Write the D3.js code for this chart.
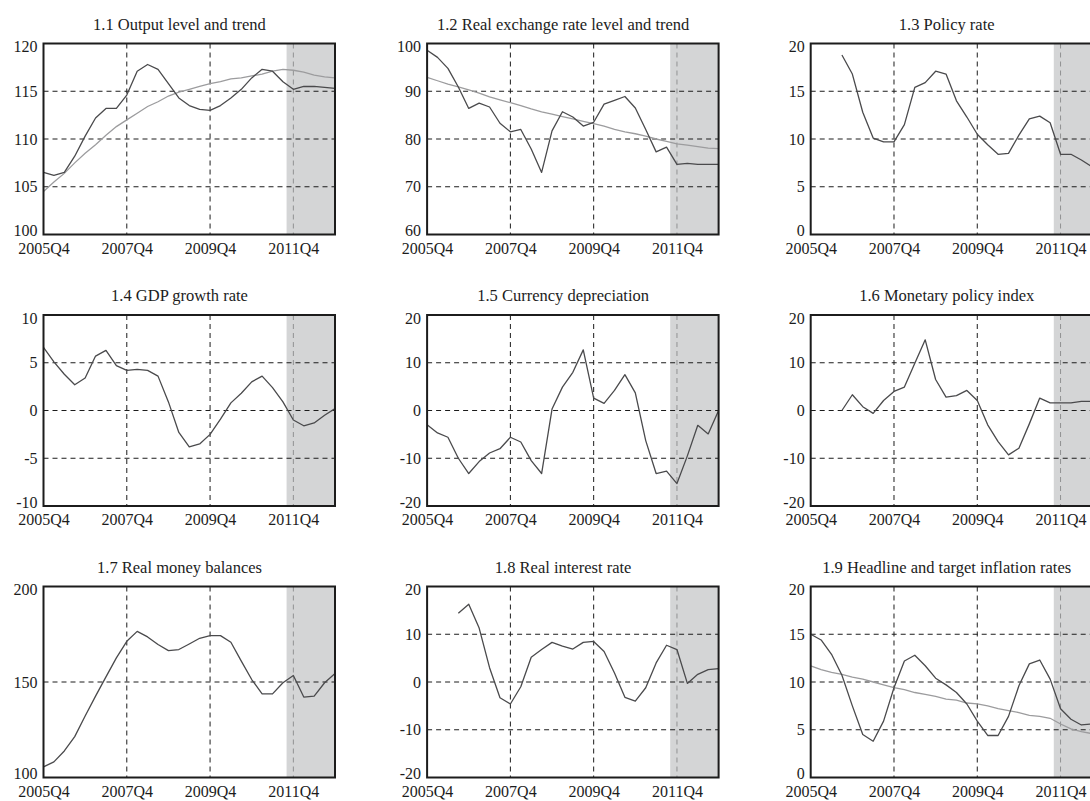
<!DOCTYPE html>
<html>
<head>
<meta charset="utf-8">
<script src="https://cdn.jsdelivr.net/npm/d3@7"></script>
<style>
  html, body { margin: 0; padding: 0; background: #fff; }
  svg { display: block; font-family: "Liberation Serif", "Times New Roman", serif; }
</style>
</head>
<body>
<svg id="chart" width="1090" height="801"></svg>
<script>
// Quarterly sample, 2005Q4 to 2012Q4
const quarters = ["2005Q4","2006Q1","2006Q2","2006Q3","2006Q4","2007Q1","2007Q2","2007Q3","2007Q4",
  "2008Q1","2008Q2","2008Q3","2008Q4","2009Q1","2009Q2","2009Q3","2009Q4","2010Q1","2010Q2","2010Q3",
  "2010Q4","2011Q1","2011Q2","2011Q3","2011Q4","2012Q1","2012Q2","2012Q3","2012Q4"];
const tickQuarters = ["2005Q4","2007Q4","2009Q4","2011Q4"];
// Projection band begins part-way through 2011Q3 (position in quarters from 2005Q4)
const forecastStart = 23.35;

const outputLevel = [106.5,106.2,106.5,108.2,110.3,112.2,113.2,113.2,114.6,117.1,117.8,117.3,115.8,114.3,113.5,113.1,113.0,113.5,114.3,115.2,116.4,117.3,117.1,116.0,115.2,115.5,115.5,115.4,115.3];
const outputTrend = [104.5,105.5,106.4,107.5,108.5,109.4,110.4,111.3,112.0,112.7,113.4,113.9,114.5,114.9,115.2,115.5,115.8,116.0,116.3,116.4,116.6,116.8,117.1,117.3,117.2,117.0,116.7,116.5,116.4];
const rerLevel = [98.6,97.1,94.8,90.9,86.4,87.5,86.7,83.3,81.5,82.0,77.9,73.0,81.7,85.7,84.6,82.7,83.5,87.3,88.1,88.9,86.5,82.0,77.3,78.3,74.7,74.9,74.7,74.7,74.7];
const rerTrend = [92.9,92.2,91.5,90.9,90.3,89.6,88.8,88.2,87.6,87.0,86.3,85.7,85.2,84.7,84.2,83.7,83.2,82.7,82.0,81.5,81.1,80.6,80.0,79.5,79.0,78.7,78.4,78.1,78.0];
const policyRate = [null,null,null,18.8,16.8,12.8,10.1,9.7,9.7,11.5,15.4,15.9,17.1,16.8,14.0,12.3,10.5,9.4,8.4,8.5,10.4,12.1,12.4,11.7,8.4,8.4,7.8,7.1,6.5];
const gdpGrowth = [6.6,5.1,3.8,2.7,3.4,5.7,6.3,4.7,4.2,4.3,4.2,3.6,0.9,-2.3,-3.8,-3.5,-2.5,-0.9,0.8,1.8,3.0,3.6,2.4,0.9,-1.0,-1.6,-1.3,-0.5,0.2];
const currencyDep = [-3.0,-4.7,-5.6,-10.0,-13.2,-10.7,-8.9,-8.0,-5.6,-6.6,-10.5,-13.2,0.3,4.9,8.0,12.7,2.6,1.5,4.2,7.5,3.7,-6.3,-13.2,-12.7,-15.3,-9.5,-3.1,-4.9,0.0];
const policyIndex = [null,null,null,0.0,3.3,0.8,-0.6,2.1,4.0,4.9,9.9,14.8,6.5,2.8,3.1,4.2,2.1,-3.0,-6.5,-9.3,-7.9,-2.8,2.6,1.6,1.6,1.6,1.9,1.9,1.9];
const moneyBalances = [105.6,108.2,113.9,121.4,132.2,142.6,152.7,162.6,171.3,176.5,173.6,169.6,166.4,167.0,169.9,172.9,174.3,174.3,170.8,160.9,151.3,143.8,143.8,149.6,153.4,142.1,142.6,149.6,154.4];
const realRate = [null,null,null,14.4,16.3,11.3,3.0,-3.3,-4.6,-1.0,5.2,6.8,8.3,7.5,6.9,8.3,8.5,6.4,1.9,-3.2,-4.0,-1.2,4.0,7.7,6.8,-0.3,1.6,2.6,2.8];
const headlineInflation = [15.0,14.4,12.9,10.7,7.5,4.5,3.8,5.9,9.4,12.2,12.8,11.7,10.4,9.7,8.9,7.7,5.9,4.4,4.4,6.4,9.6,11.9,12.3,10.3,7.2,6.1,5.5,5.6,5.8];
const targetInflation = [11.7,11.3,11.0,10.8,10.5,10.3,10.0,9.7,9.4,9.2,8.9,8.7,8.5,8.2,8.1,7.8,7.7,7.5,7.2,7.0,6.8,6.5,6.4,6.2,5.6,5.1,4.8,4.6,4.5];

const titles = ["1.1 Output level and trend","1.2 Real exchange rate level and trend","1.3 Policy rate",
  "1.4 GDP growth rate","1.5 Currency depreciation","1.6 Monetary policy index",
  "1.7 Real money balances","1.8 Real interest rate","1.9 Headline and target inflation rates"];
const yTicks = [
  [100,105,110,115,120],[60,70,80,90,100],[0,5,10,15,20],
  [-10,-5,0,5,10],[-20,-10,0,10,20],[-20,-10,0,10,20],
  [100,150,200],[-20,-10,0,10,20],[0,5,10,15,20]
];
const mainSeries = [outputLevel, rerLevel, policyRate, gdpGrowth, currencyDep, policyIndex, moneyBalances, realRate, headlineInflation];
const trendSeries = [outputTrend, rerTrend, null, null, null, null, null, null, targetInflation];

// Layout
const pw = 291.5, ph = 191;
const colStep = 383.6, rowStep = 271.5;
const x0 = 43.5, y0 = 43.5;
const ink = "#1c1c1c";

const svg = d3.select("#chart");
const tickIdx = tickQuarters.map(q => quarters.indexOf(q));

titles.forEach((title, i) => {
  const col = i % 3, row = Math.floor(i / 3);
  const left = x0 + col * colStep, top = y0 + row * rowStep;
  const ticks = yTicks[i];
  const g = svg.append("g").attr("transform", `translate(${left},${top})`);

  const x = d3.scaleLinear().domain([0, quarters.length - 1]).range([0, pw]);
  const y = d3.scaleLinear().domain([ticks[0], ticks[ticks.length - 1]]).range([ph, 0]);

  // vertical dashed grid
  g.append("g").selectAll("line").data(tickIdx.slice(1)).join("line")
    .attr("x1", d => x(d)).attr("x2", d => x(d))
    .attr("y1", 0).attr("y2", ph)
    .attr("stroke", ink).attr("stroke-width", 1).attr("stroke-dasharray", "5,4");

  // projection band
  g.append("rect")
    .attr("x", x(forecastStart)).attr("y", 0)
    .attr("width", x(quarters.length - 1) - x(forecastStart)).attr("height", ph)
    .attr("fill", "#c2c3c5").attr("fill-opacity", 0.7);

  // horizontal dashed grid
  g.append("g").selectAll("line").data(ticks.slice(1, -1)).join("line")
    .attr("x1", 0).attr("x2", pw)
    .attr("y1", d => y(d)).attr("y2", d => y(d))
    .attr("stroke", ink).attr("stroke-width", 1).attr("stroke-dasharray", "5,4");

  const line = d3.line()
    .defined(d => d != null)
    .x((d, k) => x(k))
    .y(d => y(d));

  if (trendSeries[i]) {
    g.append("path").datum(trendSeries[i])
      .attr("d", line).attr("fill", "none")
      .attr("stroke", "#9c9c9e").attr("stroke-width", 1.3);
  }
  g.append("path").datum(mainSeries[i])
    .attr("d", line).attr("fill", "none")
    .attr("stroke", "#4a4a4c").attr("stroke-width", 1.3).attr("stroke-linejoin", "round");

  // frame
  g.append("rect").attr("width", pw).attr("height", ph)
    .attr("fill", "none").attr("stroke", ink).attr("stroke-width", 2);

  // y axis labels
  const ya = g.append("g")
    .call(d3.axisLeft(y).tickValues(ticks).tickSize(0).tickPadding(6).tickFormat(d => String(d)));
  ya.select(".domain").remove();
  ya.attr("font-family", null).attr("font-size", 16).attr("color", ink);
  // nudge the end labels so they sit clear of the frame corners
  ya.selectAll(".tick text").filter(d => d === ticks[ticks.length - 1]).attr("y", 3);
  ya.selectAll(".tick text").filter(d => d === ticks[0]).attr("y", -4);

  // x axis labels
  const xa = g.append("g").attr("transform", `translate(0,${ph})`)
    .call(d3.axisBottom(x).tickValues(tickIdx).tickSize(0).tickPadding(8).tickFormat(d => quarters[d]));
  xa.select(".domain").remove();
  xa.attr("font-family", null).attr("font-size", 16).attr("color", ink);

  // panel title
  g.append("text")
    .attr("x", 136).attr("y", -14)
    .attr("text-anchor", "middle")
    .attr("font-size", 16.5)
    .attr("fill", ink)
    .text(title);
});
</script>
</body>
</html>
